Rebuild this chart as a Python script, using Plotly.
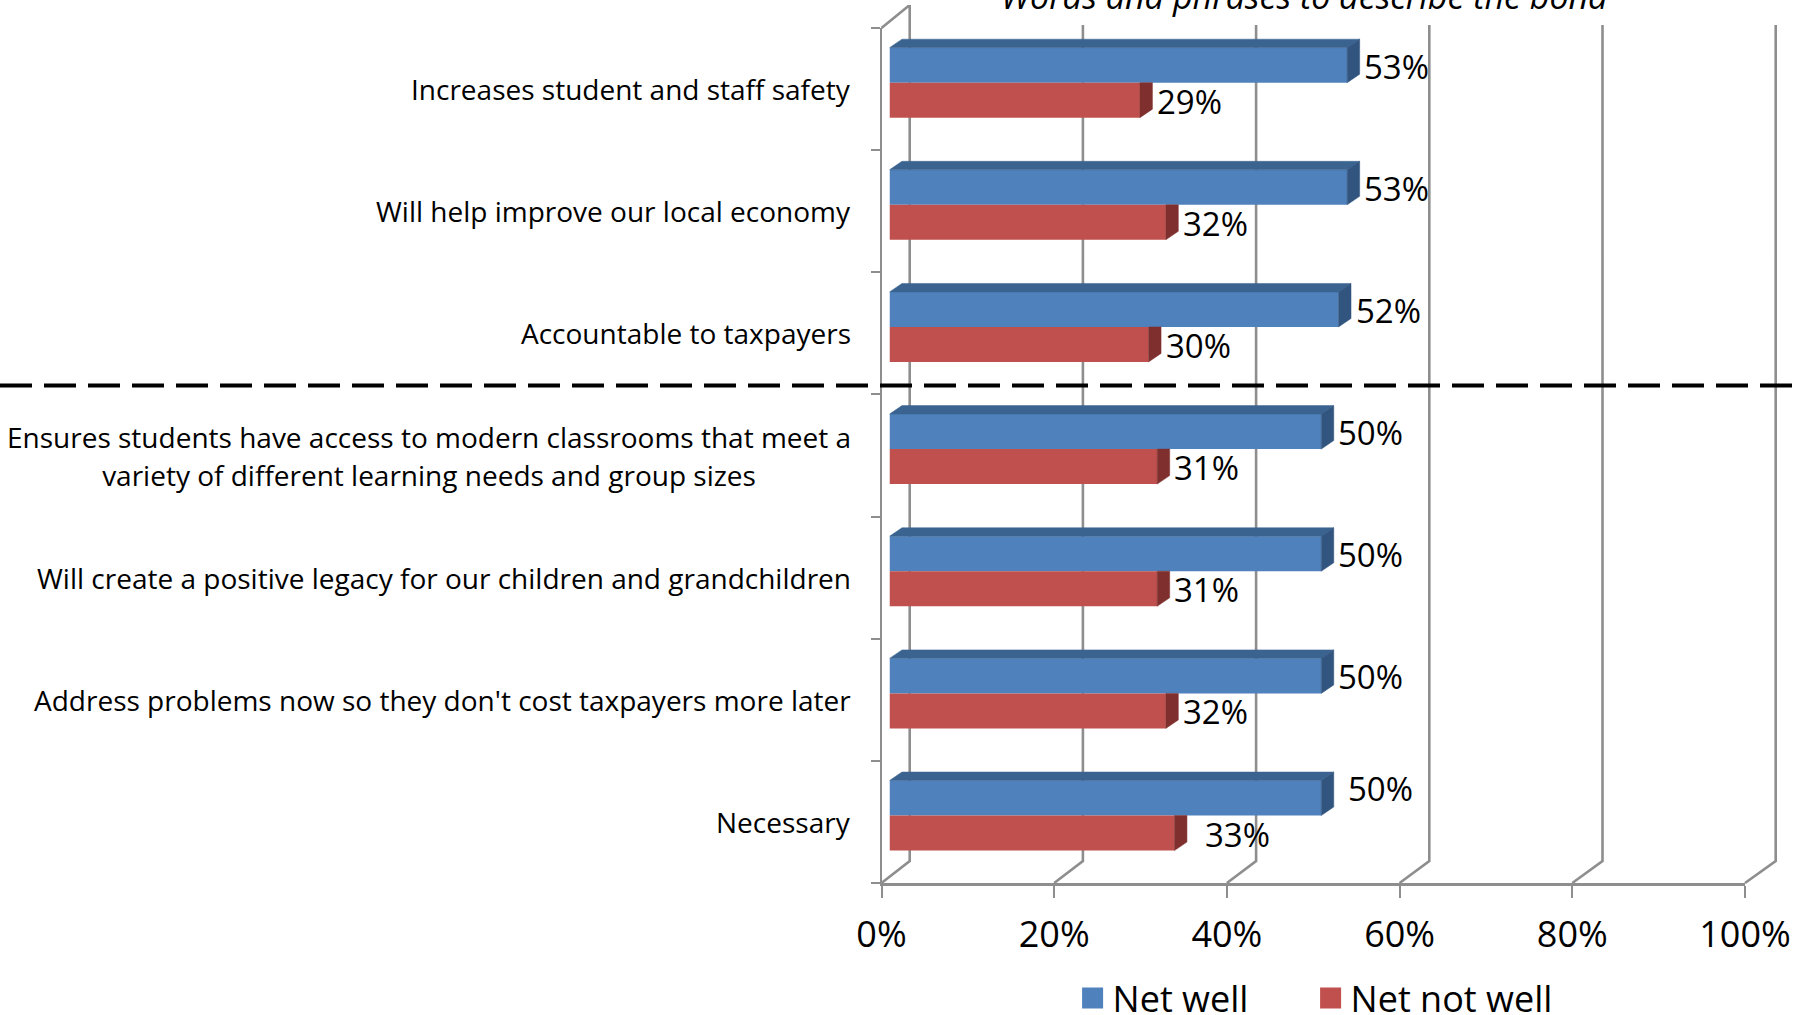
import plotly.graph_objects as go

categories = [
    "Increases student and staff safety",
    "Will help improve our local economy",
    "Accountable to taxpayers",
    "Ensures students have access to modern classrooms that meet a<br>variety of different learning needs and group sizes",
    "Will create a positive legacy for our children and grandchildren",
    "Address problems now so they don't cost taxpayers more later",
    "Necessary",
]
net_well = [53, 53, 52, 50, 50, 50, 50]
net_not_well = [29, 32, 30, 31, 31, 32, 33]
x_ticks = [0, 20, 40, 60, 80, 100]
series_names = ["Net well", "Net not well"]
title_text = "Words and phrases to describe the bond"

W, H = 1795, 1015
FONT = "Open Sans"
GREY = "#8E8E8E"
BLUE, BLUE_TOP, BLUE_SIDE = "#4F81BD", "#3B6390", "#31557F"
RED, RED_SIDE = "#C0504D", "#7F302E"
BAR_GAP = 0.427
PX_X = 8.635
PX_Y = 122.14
DX = 12.5 / PX_X
DY = 8.5 / PX_Y
rows = list(range(len(categories)))
half = (1 - BAR_GAP) / 2

# wall plane: one x unit = 8.66 px, y 0..1 spans the 836 px tall back wall
WALL_PX = 8.66
WALL_H = 836
FLOOR_Y = -22 / WALL_H          # front edge of the floor
TOP_FRONT_Y = 1 + (861 - 28 - WALL_H) / WALL_H  # front top corner of the left wall
TOP_BACK_Y = 1 + (861 - 5 - WALL_H) / WALL_H    # back top corner of the left wall
FRONT_K = PX_X / WALL_PX
FRONT_OFF = -28.2 / WALL_PX


def dom_x(a, b):
    return [a / W, b / W]


def dom_y(top, bottom):
    return [1 - bottom / H, 1 - top / H]


fig = go.Figure()

# legend entries, one legend each so they can sit where the reference has them
for name, col, leg in zip(series_names, [BLUE, RED], ["legend", "legend2"]):
    fig.add_trace(go.Scatter(
        x=[None], y=[None], mode="markers", name=name, xaxis="x", yaxis="y", legend=leg,
        marker=dict(symbol="square", size=16, color=col, line=dict(color=col, width=5)),
    ))

# floor edge and back-wall line of every tick
for v in x_ticks:
    fig.add_trace(go.Scatter(
        x=[v * FRONT_K + FRONT_OFF, v, v], y=[FLOOR_Y, 0, 1], mode="lines",
        line=dict(color=GREY, width=2.6), xaxis="x", yaxis="y",
        showlegend=False, hoverinfo="skip", cliponaxis=False,
    ))
# top of the left wall
fig.add_trace(go.Scatter(
    x=[FRONT_OFF, 0, 0], y=[TOP_FRONT_Y, TOP_BACK_Y, 1], mode="lines",
    line=dict(color=GREY, width=2.6), xaxis="x", yaxis="y",
    showlegend=False, hoverinfo="skip", cliponaxis=False,
))

# front faces
for name, vals, col in zip(series_names, [net_well, net_not_well], [BLUE, RED]):
    fig.add_trace(go.Bar(
        y=rows, x=vals, orientation="h", name=name, marker=dict(color=col, line=dict(width=0)),
        xaxis="x3", yaxis="y3", showlegend=False,
    ))


def poly(xs, ys, col):
    fig.add_trace(go.Scatter(
        x=xs, y=ys, mode="lines", fill="toself", fillcolor=col, line=dict(color=col, width=0.5),
        xaxis="x3", yaxis="y3", showlegend=False, hoverinfo="skip", cliponaxis=False,
    ))


# depth faces of the bars, derived from the same values
for r, v, n in zip(rows, net_well, net_not_well):
    top, mid, bot = r - half, r, r + half
    poly([0, DX, v + DX, v, 0], [top, top - DY, top - DY, top, top], BLUE_TOP)
    poly([v, v + DX, v + DX, v, v], [top, top - DY, mid - DY, mid, top], BLUE_SIDE)
    poly([n, n + DX, n + DX, n, n], [bot, bot - DY, mid, mid, bot], RED_SIDE)

ann = []
# category labels
for r, c in zip(rows, categories):
    ann.append(dict(
        xref="x2", yref="y2", x=0, y=r, xanchor="right", yanchor="middle", xshift=-29,
        text=f'<span style="font-size:28px">{c}</span>', showarrow=False, align="center",
        font=dict(family=FONT, size=29, color="#000000"),
    ))
# value labels
for r, v, n in zip(rows, net_well, net_not_well):
    last = r == rows[-1]
    ann.append(dict(
        xref="x3", yref="y3", x=v, y=r - half / 2, xanchor="left", yanchor="middle",
        xshift=15 + (10 if last else 0), yshift=-1 + (11 if last else 0), text=f"{v}%", showarrow=False,
        font=dict(family=FONT, size=33, color="#000000"),
    ))
    ann.append(dict(
        xref="x3", yref="y3", x=n, y=r + half / 2, xanchor="left", yanchor="middle",
        xshift=15 + (14 if last else 0), yshift=-1, text=f"{n}%", showarrow=False,
        font=dict(family=FONT, size=33, color="#000000"),
    ))
# cropped title
ann.append(dict(
    xref="paper", yref="paper", x=1305 / W, y=1 + 4 / H, xanchor="center", yanchor="middle",
    text=f"<i>{title_text}</i>", showarrow=False,
    font=dict(family=FONT, size=34, color="#000000"),
))

legend_style = dict(orientation="h", xanchor="left", y=1 - 998 / H, yanchor="middle",
                    font=dict(family=FONT, size=36, color="#000000"), bgcolor="rgba(0,0,0,0)",
                    itemclick=False, itemdoubleclick=False)

fig.update_layout(
    width=W, height=H, autosize=False, margin=dict(l=0, r=0, t=0, b=0, autoexpand=False),
    paper_bgcolor="white", plot_bgcolor="rgba(0,0,0,0)",
    barmode="group", bargap=BAR_GAP, bargroupgap=0,
    font=dict(family=FONT, color="#000000"),
    annotations=ann,
    shapes=[dict(type="line", xref="paper", yref="paper", x0=0, x1=1, y0=1 - 385.5 / H, y1=1 - 385.5 / H,
                 line=dict(color="#000000", width=4, dash="32px,12px"), layer="above")],
    legend=dict(x=1072.6 / W, **legend_style),
    legend2=dict(x=1310.6 / W, **legend_style),
    # wall plane (floor edges and back-wall lines)
    xaxis=dict(domain=dom_x(909.7 - 4 * WALL_PX, 909.7 + 101 * WALL_PX), range=[-4, 101], visible=False, anchor="y"),
    yaxis=dict(domain=dom_y(5, 890), range=[(861 - 890) / WALL_H, (861 - 5) / WALL_H], visible=False, anchor="x"),
    # front plane with the visible axes
    xaxis2=dict(domain=dom_x(881.5, 1745), range=[0, 100], tickvals=x_ticks, ticktext=[f"{t}%" for t in x_ticks],
                ticks="outside", ticklen=12, tickcolor=GREY, tickwidth=2, showline=True, linecolor=GREY, linewidth=3,
                showgrid=False, zeroline=False, tickfont=dict(family=FONT, size=36, color="#000000"),
                ticklabelstandoff=6, anchor="y2"),
    yaxis2=dict(domain=dom_y(28, 883), range=[6.5, -0.5], tickvals=[r - 0.5 for r in rows] + [6.5], ticktext=[""] * 8,
                ticks="outside", ticklen=9, tickcolor=GREY, tickwidth=2, showline=True, linecolor=GREY, linewidth=2,
                showgrid=False, zeroline=False, anchor="x2"),
    # bar plane
    xaxis3=dict(domain=dom_x(889.5, 1753), range=[0, 100], visible=False, anchor="y3"),
    yaxis3=dict(domain=dom_y(21.6, 876.6), range=[6.5, -0.5], visible=False, anchor="x3"),
)

fig.write_html("out.html", config=dict(displayModeBar=False),
               post_script="document.body.style.margin='0';document.body.style.overflow='hidden';")
